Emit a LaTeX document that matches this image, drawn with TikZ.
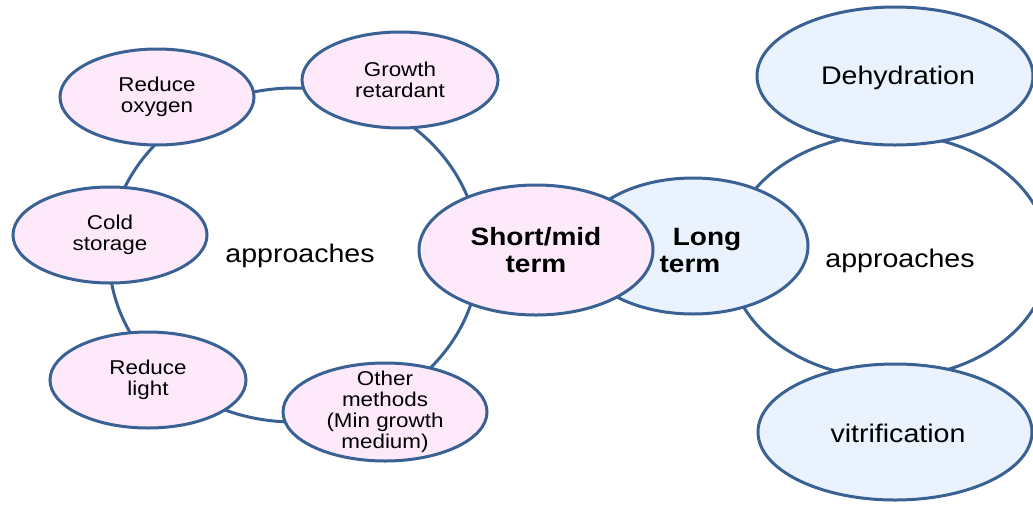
\documentclass[tikz,border=0pt]{standalone}
\usepackage{fontspec}
\setmainfont{Liberation Sans}[FakeStretch=1.12]
\usetikzlibrary{shapes.geometric}
\definecolor{edge}{HTML}{3A6194}
\definecolor{pinkfill}{HTML}{FDE9FA}
\definecolor{bluefill}{HTML}{E9F2FD}
\tikzset{
  bub/.style={ellipse, draw=edge, line width=3pt, inner sep=0pt, outer sep=0pt},
  pinkbub/.style={bub, fill=pinkfill},
  bluebub/.style={bub, fill=bluefill},
  ring/.style={bub, fill=none},
  smalltxt/.style={align=center, inner sep=0pt, font=\fontsize{20}{21}\selectfont},
  bigtxt/.style={align=center, inner sep=0pt, font=\fontsize{25}{27}\selectfont\bfseries},
  midtxt/.style={align=center, inner sep=0pt, font=\fontsize{25.5}{27}\selectfont}
}
\begin{document}
\begin{tikzpicture}[x=1pt,y=-1pt]
\useasboundingbox (0,0) rectangle (1033,504);
% rings
\node[ring, minimum width=370pt, minimum height=334pt] (lring) at (294,255) {};
\node[midtxt] (lapp) at (300,256) {approaches};
\node[ring, minimum width=320pt, minimum height=244pt] (rring) at (889,256) {};
\node[midtxt] (rapp) at (900,261) {approaches};
% left small bubbles
\node[pinkbub, minimum width=194pt, minimum height=96pt] (ro) at (157,97) {};
\node[smalltxt] (ro-t) at (ro) {Reduce\\oxygen};
\node[pinkbub, minimum width=196pt, minimum height=96pt] (gr) at (400,80) {};
\node[smalltxt] (gr-t) at (gr) {Growth\\retardant};
\node[pinkbub, minimum width=194pt, minimum height=96pt] (cs) at (110,235) {};
\node[smalltxt] (cs-t) at (cs) {Cold\\storage};
\node[pinkbub, minimum width=196pt, minimum height=96pt] (rl) at (148,380) {};
\node[smalltxt] (rl-t) at (rl) {Reduce\\light};
\node[pinkbub, minimum width=204pt, minimum height=98pt] (om) at (385,412) {};
\node[smalltxt] (om-t) at (om) {Other\\methods\\(Min growth\\medium)};
% centre pair
\node[bluebub, minimum width=230pt, minimum height=136pt] (lt) at (693,246) {};
\node[bigtxt] (lt-t) at (690,251) {\hspace*{34pt}Long\\term};
\node[pinkbub, minimum width=234pt, minimum height=130pt] (sm) at (536,250) {};
\node[bigtxt] (sm-t) at (sm) {Short/mid\\term};
% right bubbles
\node[bluebub, minimum width=276pt, minimum height=138pt] (de) at (895,76) {};
\node[midtxt] (de-t) at (898,78) {Dehydration};
\node[bluebub, minimum width=274pt, minimum height=136pt] (vi) at (895,432) {};
\node[midtxt] (vi-t) at (898,433) {vitrification};
\end{tikzpicture}
\end{document}
